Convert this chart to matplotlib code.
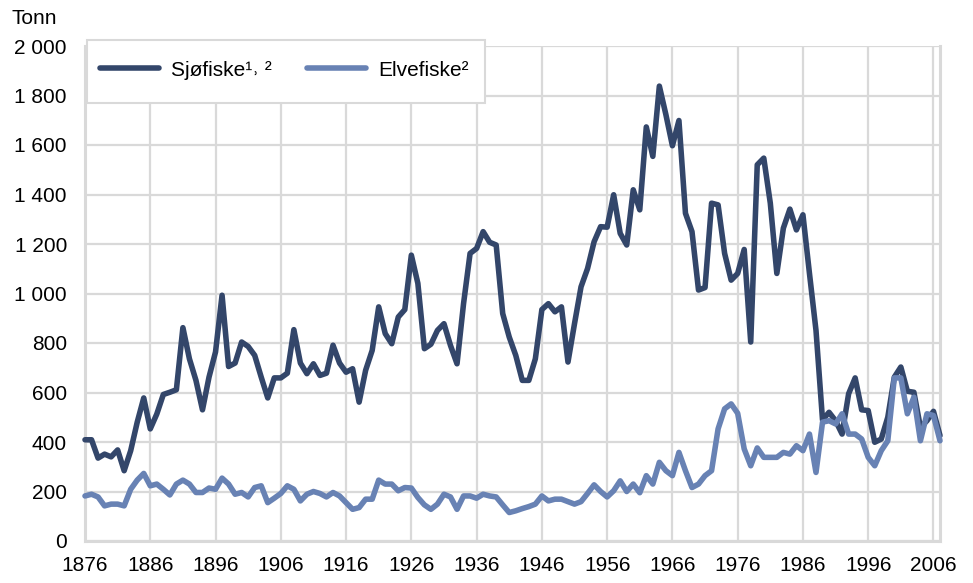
import numpy as np
import matplotlib
matplotlib.use("Agg")
import matplotlib.pyplot as plt
from matplotlib.patches import Rectangle
from matplotlib.ticker import FuncFormatter

plt.rcParams['font.family'] = ['Liberation Sans', 'DejaVu Sans']

years = np.arange(1876, 2008)

sjofiske = [409, 409, 335, 351, 340, 368, 284, 365, 480, 578,
            453, 513, 592, 601, 611, 862, 736, 649, 530, 662,
            764, 993, 705, 719, 804, 786, 750, 662, 578, 659,
            659, 678, 854, 719, 676, 716, 669, 678, 791, 719,
            682, 696, 561, 690, 770, 946, 838, 797, 905, 935,
            1155, 1041, 777, 795, 851, 878, 790, 716, 959, 1162,
            1182, 1250, 1207, 1196, 919, 824, 750, 649, 649, 736,
            935, 959, 926, 946, 723, 878, 1027, 1101, 1209, 1270,
            1268, 1399, 1243, 1196, 1419, 1338, 1673, 1554, 1838, 1723,
            1597, 1699, 1324, 1250, 1014, 1024, 1365, 1358, 1162, 1054,
            1081, 1178, 804, 1520, 1547, 1365, 1081, 1264, 1341, 1257,
            1318, 1081, 851, 489, 520, 486, 432, 595, 659, 530,
            527, 399, 412, 500, 662, 703, 605, 601, 459, 486,
            524, 426]

elvefiske = [182, 189, 178, 142, 149, 149, 142, 209, 246, 273,
             223, 230, 209, 186, 230, 246, 230, 196, 196, 214,
             209, 254, 230, 189, 196, 178, 216, 223, 155, 173,
             192, 223, 209, 162, 189, 200, 192, 178, 196, 182,
             155, 128, 135, 169, 169, 246, 230, 230, 203, 216,
             214, 176, 146, 128, 149, 189, 178, 128, 182, 182,
             173, 189, 182, 178, 146, 115, 122, 131, 139, 149,
             182, 162, 169, 169, 159, 149, 159, 192, 227, 200,
             178, 203, 243, 200, 230, 195, 264, 230, 318, 284,
             264, 358, 284, 216, 230, 264, 284, 453, 534, 554,
             516, 372, 304, 376, 338, 338, 338, 358, 351, 385,
             365, 432, 277, 480, 486, 473, 514, 432, 432, 412,
             338, 304, 365, 405, 659, 659, 514, 581, 405, 514,
             507, 405]

xticks = np.arange(1876, 2007, 10)
yticks = np.arange(0, 2001, 200)

c_sjo = '#33466a'
c_elv = '#6882b4'
grid_c = '#d9d9d9'

W, H = 973, 583
fig = plt.figure(figsize=(W / 100, H / 100), dpi=100)
ax = fig.add_axes([85 / W, 1 - 541 / H, (940 - 85) / W, (541 - 46) / H])

ax.plot(years, sjofiske, color=c_sjo, lw=4.0, solid_joinstyle='round', solid_capstyle='round',
        label='Sjøfiske¹˒ ²', zorder=4, clip_on=False)
ax.plot(years, elvefiske, color=c_elv, lw=4.0, solid_joinstyle='round', solid_capstyle='round',
        label='Elvefiske²', zorder=4, clip_on=False)

ax.set_xlim(1876, 2007)
ax.set_ylim(0, 2000)
ax.set_xticks(xticks)
ax.set_yticks(yticks)
ax.yaxis.set_major_formatter(FuncFormatter(lambda v, p: '{:,.0f}'.format(v).replace(',', ' ')))
ax.grid(True, color=grid_c, lw=1.6, zorder=0)
ax.set_axisbelow(True)
ax.tick_params(length=0, labelsize=15, colors='black')
ax.tick_params(axis='y', pad=13)
ax.tick_params(axis='x', pad=11)
for s in ['left', 'bottom', 'right']:
    ax.spines[s].set_color(grid_c)
    ax.spines[s].set_linewidth(2.2)
ax.spines['top'].set_visible(False)

fig.text(12 / W, 1 - 9 / H, 'Tonn', fontsize=15, ha='left', va='top')

# legend box drawn by hand so it sits over the top gridlines
box = Rectangle((87 / W, 1 - 103 / H), (485 - 87) / W, (103 - 40) / H, transform=fig.transFigure,
                facecolor='white', edgecolor=grid_c, lw=1.5, zorder=5)
fig.patches.append(box)
leg = fig.legend(loc='center left', bbox_to_anchor=(92 / W, 1 - 70 / H), frameon=False, ncol=2,
                 fontsize=15, handlelength=2.8, handletextpad=0.6, columnspacing=1.7, borderaxespad=0)
leg.set_zorder(6)

fig.savefig('out.png', dpi=100)
